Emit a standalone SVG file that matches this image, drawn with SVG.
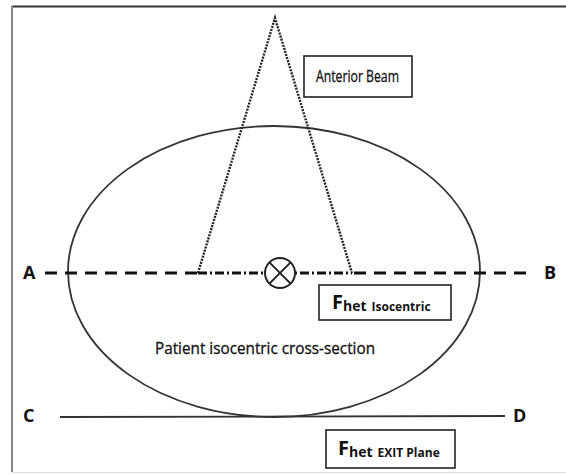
<svg xmlns="http://www.w3.org/2000/svg" width="566" height="474" viewBox="0 0 566 474">
<style>
.t{font-family:"Open Sans","Liberation Sans",sans-serif;fill:#111}
.b{font-weight:bold}
.box{fill:#fff;stroke:#222;stroke-width:1.6}
.dash{stroke:#111;stroke-width:3;fill:none}
.beam{stroke:#222;stroke-width:2.4;stroke-dasharray:2 1.2;fill:none}
</style>
<rect x="0" y="0" width="566" height="474" fill="#fff"/>
<g id="frame">
<line x1="12" y1="6.5" x2="566" y2="6.5" stroke="#333" stroke-width="2"/>
<line x1="12" y1="6" x2="12" y2="472" stroke="#888" stroke-width="2"/>
<line x1="12" y1="472.5" x2="566" y2="472.5" stroke="#ddd" stroke-width="1"/>
</g>
<g id="patient">
<ellipse cx="274" cy="271.5" rx="206" ry="145.5" fill="none" stroke="#333" stroke-width="1.8"/>
<text class="t" x="155" y="354" font-size="15.5" textLength="220" lengthAdjust="spacingAndGlyphs" stroke="#111" stroke-width="0.3">Patient isocentric cross-section</text>
</g>
<g id="connectors">
<path class="beam" d="M198 273 L275 18 L352 273"/>
<line class="dash" x1="45" y1="273" x2="198" y2="273" stroke-dasharray="12 8"/>
<line class="dash" x1="198" y1="273" x2="352" y2="273" stroke-width="2.5" stroke-dasharray="9 3 2 3"/>
<line class="dash" x1="354" y1="273" x2="532" y2="273" stroke-dasharray="12 8"/>
<line x1="60" y1="417" x2="505" y2="416" stroke="#333" stroke-width="1.8"/>
</g>
<g id="isocenter">
<circle cx="280" cy="273" r="15" fill="#fff" stroke="#222" stroke-width="2"/>
<line x1="269.4" y1="262.4" x2="290.6" y2="283.6" stroke="#222" stroke-width="2"/>
<line x1="290.6" y1="262.4" x2="269.4" y2="283.6" stroke="#222" stroke-width="2"/>
</g>
<g id="anterior-beam">
<rect class="box" x="304" y="56" width="108" height="41"/>
<text class="t" x="316" y="82" font-size="16" textLength="83" lengthAdjust="spacingAndGlyphs" stroke="#111" stroke-width="0.3">Anterior Beam</text>
</g>
<g id="fhet-isocentric">
<rect class="box" x="319" y="285" width="132" height="35"/>
<text class="t b" x="332" y="309" font-size="20">F<tspan font-size="14" dy="2">het</tspan><tspan font-size="12" dx="5">Isocentric</tspan></text>
</g>
<g id="fhet-exit">
<rect class="box" x="326" y="430" width="129" height="38"/>
<text class="t b" x="338" y="455" font-size="20">F<tspan font-size="14" dy="2">het</tspan><tspan font-size="12" dx="5">EXIT Plane</tspan></text>
</g>
<g id="labels">
<text class="t b" x="23" y="279" font-size="18">A</text>
<text class="t b" x="544" y="279" font-size="18">B</text>
<text class="t b" x="23" y="422" font-size="18">C</text>
<text class="t b" x="513" y="422" font-size="18">D</text>
</g>
</svg>
